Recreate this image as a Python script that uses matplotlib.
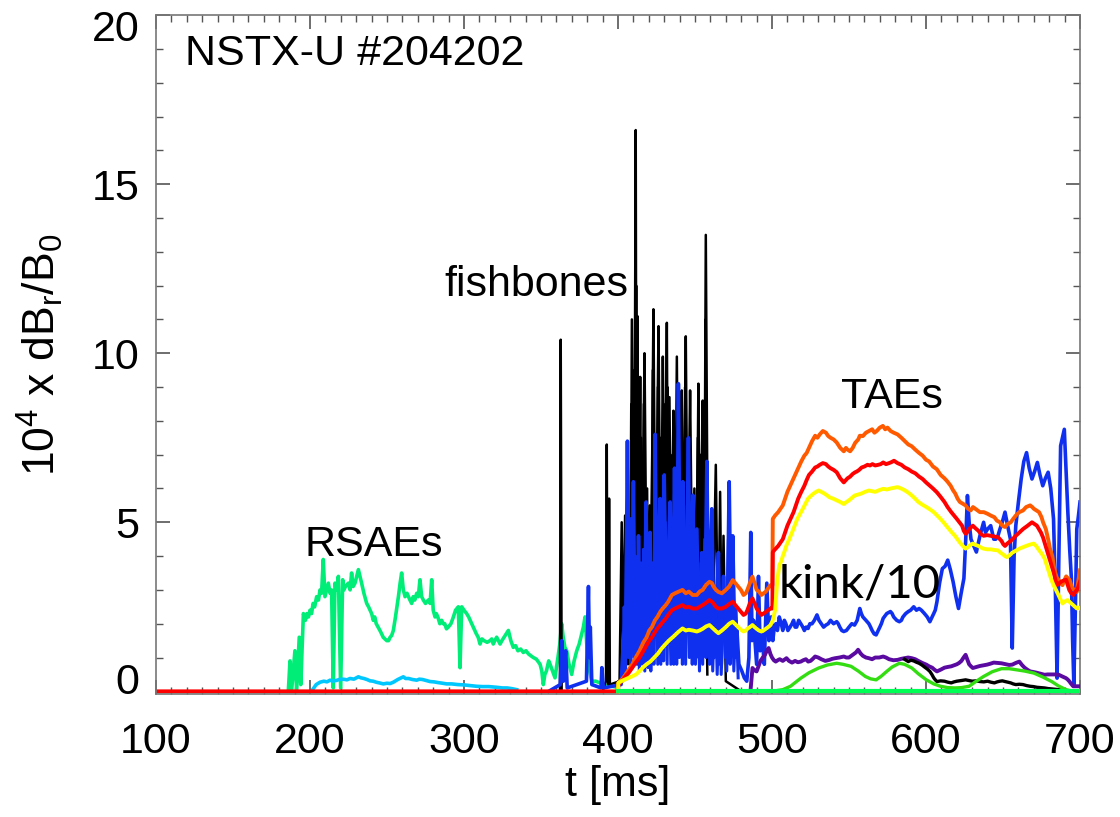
import numpy as np
import matplotlib
matplotlib.use('Agg')
import matplotlib.pyplot as plt
import matplotlib.transforms as mtransforms
from matplotlib.ticker import MultipleLocator

plt.rcParams['font.family'] = ['Liberation Sans', 'DejaVu Sans']
plt.rcParams['mathtext.fontset'] = 'custom'
plt.rcParams['mathtext.rm'] = 'Liberation Sans'
plt.rcParams['mathtext.it'] = 'Liberation Sans'

# RSAE amplitude (green), (t [ms], value)
rsae = [(185.9, 0.0), (187, 0.9), (188, 0.0), (190.2, 1.2), (191.3, 0.0), (193, 1.6),
        (194, 0.2), (195.7, 2.3), (197, 2.1), (198, 2.3), (199, 2.2), (200, 2.4), (201, 2.3),
        (202, 2.6), (203, 2.5), (204.3, 2.8), (205.5, 2.7), (206.5, 3.0), (207.5, 2.9),
        (208.6, 3.9), (209.7, 2.8), (210.8, 3.0), (211.9, 3.2), (213, 2.9), (214, 3.0),
        (215.1, 0.1), (216.2, 3.2), (217.3, 3.0), (218.4, 3.4), (219.9, 0.1), (221.2, 3.3),
        (222, 3.0), (223, 3.1), (224.9, 3.2), (226, 3.0), (227, 3.5), (228, 3.1), (229.2, 3.2),
        (230.3, 3.4), (231.4, 3.6), (233.5, 3.2), (235, 2.9), (236.8, 2.6), (238, 2.5),
        (239, 2.4), (240, 2.3), (241.1, 2.1), (242, 2.2), (243, 2.0), (244.2, 1.9),
        (245.4, 1.8), (246.5, 1.7), (247.5, 1.6), (248.6, 1.55), (249.8, 1.5), (251, 1.5),
        (252, 1.6), (253, 1.65), (254.1, 1.8), (255.5, 2.2), (257.4, 2.8), (258.5, 3.2),
        (259.5, 3.5), (260.6, 3.0), (261.7, 2.8), (263, 2.9), (264.9, 2.7), (266, 2.6),
        (267, 2.8), (268, 2.7), (269.3, 2.9), (270.3, 2.8), (271.4, 3.3), (272.5, 2.8),
        (273.6, 2.7), (275, 2.6), (276.8, 2.7), (278, 2.6), (279, 3.3), (280, 2.4),
        (281.2, 2.2), (282, 2.3), (283, 2.2), (284.3, 2.0), (285.5, 2.1), (286.5, 2.0),
        (287.5, 2.0), (288.6, 1.85), (289.8, 1.9), (291.5, 2.0), (293.1, 2.2), (294.5, 2.4),
        (296.3, 2.5), (297.4, 0.7), (298.5, 2.5), (300, 2.4), (301.7, 2.3), (303, 2.2),
        (304, 2.1), (305, 2.0), (306, 1.9), (307, 1.8), (308, 1.7), (309.2, 1.6), (310.4, 1.4),
        (311.6, 1.55), (313, 1.5), (315, 1.45), (316.9, 1.5), (318, 1.55), (319, 1.4),
        (320, 1.5), (321.2, 1.6), (322.3, 1.5), (323.4, 1.4), (324.6, 1.5), (326, 1.6),
        (327.4, 1.7), (328.8, 1.8), (330.4, 1.5), (332, 1.3), (333.5, 1.35), (335, 1.2),
        (336.8, 1.25), (338.5, 1.15), (340.2, 1.2), (342, 1.1), (343.5, 1.05), (345, 1.0),
        (347, 0.95), (349.4, 0.8), (350.5, 0.6), (351.5, 0.2), (352.5, 0.5), (353.5, 0.6),
        (355, 0.9), (355.9, 0.8), (357.5, 0.6), (359.1, 0.4), (360, 0.7), (361, 1.0),
        (362.2, 1.4), (363.4, 2.0), (364.4, 1.6), (365.5, 1.3), (366.7, 1.2), (368.2, 0.8),
        (369.9, 0.5), (371.5, 0.9), (373.2, 1.2), (374.8, 1.4), (376.4, 1.7), (377.5, 1.9),
        (378.6, 2.2), (379.7, 1.4), (380.8, 0.8), (382, 0.5), (382.9, 0.3), (385.5, 0.3),
        (388.3, 0.25), (390.5, 0.2), (392.7, 0.17), (396, 0.15), (399.2, 0.12), (400, 0.0)]

# light blue trace under the RSAEs
rsae_low = [(202, 0.07), (204, 0.2), (206.5, 0.27), (209, 0.3), (211, 0.28), (213, 0.33),
            (215, 0.3), (217, 0.32), (219, 0.35), (221.6, 0.36), (224, 0.34), (226, 0.38),
            (228.5, 0.36), (231.4, 0.43), (233, 0.4), (235, 0.38), (237, 0.35), (239, 0.31),
            (241, 0.3), (243, 0.27), (245, 0.25), (247.6, 0.22), (250, 0.24), (252, 0.23),
            (254.1, 0.27), (257, 0.35), (260.6, 0.43), (262, 0.38), (264, 0.38), (266.5, 0.35),
            (269.3, 0.33), (271, 0.36), (273, 0.35), (275.5, 0.32), (277.9, 0.29), (280.5, 0.28),
            (283, 0.26), (286, 0.24), (288.7, 0.22), (292, 0.22), (296, 0.2), (300, 0.19),
            (303.9, 0.17), (308, 0.15), (312, 0.14), (316, 0.14), (321.2, 0.12), (325, 0.1),
            (328, 0.1), (331, 0.08), (334.2, 0.05)]

# fishbone bursts (black)
fishbones = [(355, 0.0), (362.3, 0.0), (362.8, 10.4), (363.4, 0.0), (390, 0.0), (392.2, 0.3),
             (392.7, 7.3), (393.2, 0.5), (393.8, 0.2), (394.2, 5.7), (394.7, 0.2), (401, 0.3),
             (402.4, 5.0), (403.3, 0.8), (404.6, 5.2), (405.5, 1.2), (406.5, 0.8), (407.2, 4.0),
             (408.2, 2.5), (409, 11.0), (410, 3.0), (410.8, 7.5), (411.5, 16.6), (412, 4.0),
             (412.6, 11.1), (413.4, 3.5), (414.4, 9.3), (415.1, 4.0), (415.8, 2.0), (416.4, 6.5),
             (417.2, 10.0), (418.5, 3.0), (419.2, 5.0), (420, 1.5), (421.5, 4.5), (422.2, 7.0),
             (423, 11.3), (424, 5.0), (424.8, 3.0), (425.5, 7.5), (426.3, 10.8), (427.7, 2.5),
             (428.4, 6.0), (429.1, 9.9), (430.4, 4.0), (431, 7.0), (431.7, 10.9), (432.5, 3.5),
             (433.4, 8.7), (434.7, 2.0), (435.3, 5.5), (436, 8.3), (437.1, 3.5), (438.2, 9.9),
             (439, 5.0), (439.8, 2.5), (440.6, 6.5), (441.4, 8.9), (442.7, 3.0), (443.3, 7.0),
             (444, 10.5), (445.4, 2.5), (446, 6.0), (446.8, 8.9), (448.2, 3.0), (449.6, 6.0),
             (450.9, 1.5), (451.5, 5.5), (452.2, 9.1), (453.6, 2.0), (454.3, 6.0), (455, 8.6),
             (456, 3.0), (457, 13.5), (458.5, 2.0), (460, 1.0), (462, 3.0), (463.5, 6.7),
             (465, 0.8), (466.3, 5.9), (467.4, 0.8), (468.5, 4.6), (470, 0.3), (480, 0.0)]
# the denser under-layer of the fishbone bursts
fishbones_under = [(405, 0.5), (406, 3.5), (407.6, 1.0), (408.6, 8.5), (409.5, 2.0),
                   (410.4, 9.5), (411.1, 3.0), (411.8, 12.0), (412.3, 3.0), (413, 8.0),
                   (413.9, 2.0), (414.9, 7.5), (416, 1.5), (416.8, 8.5), (417.8, 2.0),
                   (418.9, 6.0), (419.6, 1.0), (420.7, 5.5), (421.9, 2.0), (422.6, 9.5),
                   (423.6, 2.5), (424.4, 7.0), (425.2, 2.0), (425.9, 9.0), (427, 2.0),
                   (427.4, 7.5), (428.7, 2.5), (429.6, 8.0), (430.1, 2.5), (430.7, 8.5),
                   (431.3, 3.0), (432.1, 9.0), (432.9, 2.5), (433.9, 7.0), (434.4, 2.0),
                   (435.6, 7.0), (436.5, 2.5), (437.6, 7.5), (438.6, 3.0), (439.4, 8.0),
                   (440.2, 2.0), (441, 7.5), (442, 2.5), (442.4, 6.0), (443, 2.0), (443.6, 9.0),
                   (444.6, 2.5), (445.1, 7.5), (445.8, 2.0), (446.4, 7.5), (447.5, 2.5),
                   (449, 5.0), (450.4, 1.5), (451.8, 7.5), (452.8, 2.0), (453.9, 7.0),
                   (454.6, 2.0), (455.5, 7.0), (456.5, 3.0), (456.8, 11.0), (457.6, 2.0),
                   (458, 0.5)]

# blue trace
blue = [(355, 0.0), (362.5, 0.2), (363.5, 1.5), (364.5, 0.3), (366, 1.2), (367, 0.1),
        (379.5, 0.3), (380.8, 3.1), (381.5, 1.0), (382, 1.9), (383, 0.2), (389, 0.1),
        (389.5, 0.7), (390.5, 0.1), (402, 0.2), (403.5, 1.5), (404.5, 0.6), (405.3, 3.0),
        (406.1, 7.4), (407, 2.0), (407.9, 5.1), (408.8, 1.5), (409.4, 3.8), (410, 6.2),
        (411, 1.5), (412, 3.5), (412.6, 1.2), (413.3, 4.6), (414.5, 1.0), (415.2, 2.6),
        (416, 3.0), (417, 1.2), (417.6, 3.3), (418.2, 5.6), (419.3, 1.5), (420, 3.1),
        (420.8, 4.7), (422, 1.0), (423, 3.0), (423.6, 1.6), (424.1, 7.6), (425.3, 2.0),
        (426.2, 4.0), (427.3, 5.7), (428.5, 1.5), (429.2, 3.6), (430, 6.4), (431.5, 1.8),
        (432.6, 3.9), (433.8, 5.6), (435, 1.5), (435.8, 3.4), (436.7, 6.6), (437.8, 2.0),
        (438.5, 4.5), (439.2, 9.1), (440.5, 2.5), (441.3, 4.2), (442.1, 6.2), (443.5, 1.5),
        (444.6, 4.0), (445.7, 7.5), (447, 2.0), (447.8, 3.5), (448.6, 5.8), (450, 1.2),
        (450.6, 3.0), (451.2, 4.8), (452.6, 1.0), (453.5, 2.8), (454.4, 4.1), (455.8, 1.5),
        (456.8, 3.8), (457.7, 6.8), (459, 1.8), (460, 3.5), (460.9, 5.4), (462.5, 1.0),
        (463.8, 2.6), (465.2, 4.1), (466.5, 0.8), (467.5, 2.2), (468.5, 3.4), (470, 1.0),
        (471.2, 3.0), (472.2, 6.2), (473.3, 2.0), (474.5, 4.6), (476, 1.0), (477.1, 1.9),
        (478.5, 0.8), (480.4, 0.6), (482, 0.4), (483.6, 0.3), (485, 1.0), (486.2, 4.7),
        (487, 1.5), (488, 2.1), (490, 0.8), (491.2, 3.4), (492.3, 1.2), (493.4, 1.7),
        (495, 0.8), (496.6, 3.2), (498, 1.5), (499.5, 2.2), (500.5, 1.5), (501.5, 1.9),
        (502.5, 2.0), (503.5, 1.8), (504.7, 2.2), (506, 2.0), (507, 1.8), (508, 2.1), (509, 2.0),
        (510.3, 1.8), (511.7, 1.9), (513, 2.0), (514, 2.1), (515, 1.9), (516, 1.9), (517.3, 2.1),
        (518.7, 2.0), (520, 1.9), (521, 1.8), (522.2, 1.9), (523.4, 1.86), (524.6, 2.0),
        (526, 2.0), (527.5, 2.1), (529.2, 2.26), (530.5, 2.1), (532, 2.0), (533.5, 1.9),
        (535, 1.96), (536.5, 2.0), (538, 2.1), (540, 2.0), (542, 2.06), (543, 2.0), (544, 1.9),
        (545.3, 1.8), (546.6, 1.77), (548.3, 1.8), (550, 1.9), (551.8, 2.0), (553.6, 1.96),
        (555.3, 2.1), (557, 2.45), (558, 2.3), (559, 2.2), (561, 2.1), (562.9, 2.0), (564, 1.9),
        (565, 1.8), (566.3, 1.7), (567.6, 1.67), (569, 1.8), (570, 1.9), (571, 2.0),
        (572.2, 2.16), (574.5, 2.3), (576.9, 2.36), (578, 2.3), (579, 2.2), (581, 2.1),
        (582.7, 2.06), (584, 2.1), (585, 2.2), (586.8, 2.3), (588.5, 2.36), (590, 2.4), (592, 2.5),
        (593.8, 2.4), (595.5, 2.45), (597, 2.4), (599, 2.3), (600.8, 2.2), (602.5, 2.06),
        (604, 2.2), (605, 2.3), (606, 2.4), (607.1, 2.65), (608.8, 3.2), (610.6, 3.63),
        (612.4, 3.7), (614.1, 3.88), (615.8, 3.6), (617.6, 3.24), (619.4, 2.8), (621.1, 2.45),
        (622.8, 2.9), (624.6, 3.34), (625.8, 4.5), (626.9, 5.79), (628, 5.0), (629.2, 4.5),
        (631, 4.3), (632.7, 4.12), (634, 4.4), (635, 4.6), (636.2, 4.8), (637.4, 5.0),
        (638.6, 4.7), (640, 4.8), (642, 4.9), (643, 4.7), (644, 4.5), (645.3, 4.5),
        (646.7, 4.6), (648, 4.8), (649.5, 5.0), (651.3, 5.3), (653, 4.9), (654.8, 4.5),
        (656, 1.28), (657.2, 4.0), (658.3, 4.9), (660, 5.6), (661.8, 6.28), (663.5, 6.8),
        (665.3, 7.06), (667, 6.6), (668.8, 6.28), (670.5, 6.5), (672.3, 6.77), (674, 6.4),
        (675.8, 6.08), (677.5, 6.3), (679.3, 6.48), (681, 6.0), (682.8, 5.1), (684, 3.0),
        (685.1, 0.39), (686.2, 3.8), (687.4, 7.26), (688.6, 7.5), (689.8, 7.75), (691, 6.5),
        (692.1, 5.3), (693.3, 4.2), (694.4, 3.34), (695.2, 1.5), (696, 0.2), (697, 2.5),
        (697.9, 4.8), (699, 5.2), (700, 5.6)]
# denser blue bursts between the main blue spikes
blue_under = [(403, 0.5), (404, 2.5), (404.8, 0.8), (405.6, 4.5), (406.6, 1.0), (407.4, 3.5),
              (408.3, 0.8), (409.1, 4.8), (410.5, 1.0), (411.4, 4.0), (412.3, 0.8), (413, 3.2),
              (413.9, 0.6), (414.8, 3.8), (415.6, 0.8), (416.5, 4.2), (417.4, 0.6),
              (418.8, 3.8), (419.6, 0.7), (420.4, 3.6), (421.3, 0.6), (422.4, 3.8), (423.3, 0.8),
              (424.6, 5.0), (425.8, 0.8), (426.7, 4.6), (427.8, 0.8), (428.8, 4.2), (429.6, 0.9),
              (430.7, 5.0), (431.9, 0.8), (432.9, 4.4), (434.3, 0.8), (435.3, 4.0), (436.2, 0.8),
              (437.3, 5.0), (438.1, 0.8), (438.9, 6.0), (439.9, 1.0), (440.9, 5.2), (441.8, 0.8),
              (442.8, 4.6), (443.9, 0.8), (445, 5.5), (446.3, 1.0), (447.3, 4.8), (448.2, 0.8),
              (449.2, 4.2), (450.3, 0.8), (451.8, 3.5), (452.9, 0.6), (453.9, 3.8), (455, 0.8),
              (456.3, 4.5), (457.2, 1.0), (458.3, 4.8), (459.5, 0.8), (460.4, 4.0), (461.5, 0.6),
              (463, 3.0), (464.4, 0.5), (466, 3.0), (467, 0.5), (469, 2.8), (470.6, 0.6),
              (471.7, 4.5), (472.8, 0.8), (473.9, 3.5), (475.2, 0.6), (476.6, 2.5), (478, 0.4)]

# TAE amplitudes (orange, red, yellow)
tae_orange = [(400, 0.0), (400.2, 0.25), (402.5, 0.35), (405, 0.5), (407, 0.65), (409.3, 0.8),
              (411.5, 1.0), (414, 1.2), (416.5, 1.45), (418.6, 1.6), (420.3, 1.8), (422, 1.9),
              (424, 2.1), (425.6, 2.2), (427.4, 2.35), (429, 2.45), (431, 2.55), (432.6, 2.65),
              (435, 2.85), (437, 2.9), (439.5, 2.95), (441.9, 3.0), (444, 2.9), (446, 2.95),
              (448.5, 2.85), (451.2, 2.85), (453, 2.95), (455, 3.0), (457.2, 3.15), (459.4, 3.24),
              (461, 3.2), (462, 3.1), (463.6, 3.0), (465.2, 2.94), (467.5, 2.9), (470, 3.0),
              (472.2, 3.1), (474.5, 3.29), (476.2, 3.2), (478, 3.1), (479.8, 3.0), (481.5, 2.85),
              (483, 2.9), (484, 3.0), (485.6, 3.2), (487.3, 3.39), (488.7, 3.2), (490, 3.0),
              (491.5, 2.95), (493.1, 2.85), (494.5, 2.9), (496, 2.95), (497.5, 3.05), (499, 3.14),
              (500.2, 3.14), (500.5, 5.1), (502, 5.2), (504, 5.3), (505.5, 5.4), (507, 5.5),
              (508.5, 5.7), (510, 5.9), (512, 6.1), (514, 6.3), (515.5, 6.45), (517, 6.6),
              (519, 6.8), (521, 6.97), (522.5, 7.05), (524, 7.2), (526, 7.4), (528, 7.56),
              (529.5, 7.5), (531, 7.6), (533, 7.7), (535, 7.65), (536.5, 7.55), (538, 7.5),
              (540, 7.45), (542, 7.36), (544.3, 7.2), (546.6, 7.1), (548, 7.2), (549, 7.15),
              (550.7, 7.1), (552.4, 7.2), (554, 7.35), (555, 7.4), (556, 7.45), (557, 7.56),
              (559, 7.55), (561, 7.65), (563, 7.7), (565, 7.75), (566.5, 7.65), (568, 7.7),
              (570, 7.8), (572, 7.85), (573.5, 7.75), (575, 7.8), (577, 7.7), (579, 7.65),
              (581.5, 7.6), (584, 7.5), (586.2, 7.4), (588.5, 7.3), (590.7, 7.25), (593, 7.15),
              (595.5, 7.05), (597.8, 6.97), (600, 6.85), (602, 6.8), (604.5, 6.65), (607, 6.57),
              (609.5, 6.4), (612, 6.3), (614, 6.2), (616, 6.08), (617.5, 5.95), (619, 5.85),
              (620.5, 5.7), (622, 5.6), (623.8, 5.55), (625.7, 5.5), (627.3, 5.4), (629, 5.35),
              (630.5, 5.45), (632, 5.4), (633.5, 5.35), (635, 5.3), (637.5, 5.3), (640, 5.25),
              (642, 5.2), (644.4, 5.15), (646, 5.05), (648, 5.0), (649.5, 4.9), (651.3, 4.86),
              (653, 4.95), (655, 5.0), (656.6, 5.1), (658.3, 5.2), (660.5, 5.3), (663, 5.35),
              (665, 5.45), (667.6, 5.5), (669, 5.45), (670, 5.4), (671.7, 5.35), (673.4, 5.3),
              (675, 5.15), (676, 5.0), (677.8, 4.8), (679.3, 4.5), (680.6, 4.2), (682, 4.0),
              (683, 3.7), (684, 3.5), (685, 3.35), (686, 3.3), (687.3, 3.2), (688.6, 3.14),
              (690, 3.3), (691, 3.4), (692, 3.35), (693.2, 3.3), (694.5, 3.1), (696, 3.0),
              (697.9, 2.94), (699, 3.3), (700, 3.58)]
tae_red = [(100, 0.0), (400, 0.0), (400.2, 0.2), (402.5, 0.3), (405, 0.45), (407, 0.55),
           (409.3, 0.7), (411.5, 0.85), (414, 1.0), (416.5, 1.2), (418.6, 1.37), (420.3, 1.5),
           (422, 1.6), (424, 1.75), (425.6, 1.86), (427.4, 1.95), (429, 2.05), (431, 2.15),
           (432.6, 2.26), (435, 2.4), (437, 2.45), (439.5, 2.5), (441.9, 2.55), (444, 2.48),
           (446, 2.5), (448.5, 2.45), (451.2, 2.45), (453, 2.5), (455, 2.55), (457.2, 2.62),
           (459.4, 2.7), (461, 2.65), (462, 2.6), (463.6, 2.5), (465.2, 2.45), (467.5, 2.45),
           (470, 2.5), (472.2, 2.58), (474.5, 2.65), (476.2, 2.55), (478, 2.45), (479.8, 2.35),
           (481.5, 2.26), (483, 2.3), (484, 2.4), (485.6, 2.6), (487.3, 2.75), (488.7, 2.6),
           (490, 2.45), (491.5, 2.35), (493.1, 2.26), (494.5, 2.3), (496, 2.35), (497.5, 2.4),
           (499, 2.45), (500.2, 2.45), (500.5, 4.12), (502, 4.2), (504, 4.3), (505.5, 4.4),
           (507, 4.5), (508.5, 4.7), (510, 4.9), (512, 5.1), (514, 5.3), (515.5, 5.5),
           (517, 5.7), (519, 5.9), (521, 6.08), (522.5, 6.25), (524, 6.4), (526, 6.5),
           (528, 6.62), (529.5, 6.65), (531, 6.7), (533, 6.75), (535, 6.72), (536.5, 6.65),
           (538, 6.6), (540, 6.55), (542, 6.48), (544.3, 6.3), (546.6, 6.18), (548, 6.25),
           (549, 6.3), (550.7, 6.35), (552.4, 6.43), (554, 6.48), (555, 6.5), (556.6, 6.55),
           (558.2, 6.62), (560, 6.65), (562, 6.7), (563.6, 6.68), (565.2, 6.72), (567, 6.68),
           (569, 6.7), (570.6, 6.72), (572.2, 6.77), (574, 6.72), (576, 6.75), (577.6, 6.78),
           (579.2, 6.82), (581.5, 6.75), (584, 6.7), (586.2, 6.62), (588.5, 6.57), (590.7, 6.5),
           (593, 6.45), (595.5, 6.35), (597.8, 6.28), (600, 6.18), (602, 6.1), (604.5, 6.0),
           (607, 5.89), (609.5, 5.75), (612, 5.6), (614, 5.45), (616.4, 5.3), (618.2, 5.2),
           (620, 5.1), (621.7, 5.0), (623.4, 4.9), (624.5, 4.75), (625.7, 4.66), (627, 4.72),
           (628, 4.8), (629.2, 4.85), (630.4, 4.9), (632.2, 4.82), (634, 4.75), (635.7, 4.65),
           (637.4, 4.6), (639.7, 4.62), (642, 4.6), (644.4, 4.58), (646.7, 4.56), (648, 4.5),
           (649, 4.45), (650.2, 4.35), (651.3, 4.3), (653, 4.38), (655, 4.45), (656.6, 4.52),
           (658.3, 4.6), (660.6, 4.7), (663, 4.8), (666, 4.9), (668.8, 5.0), (670.4, 4.95),
           (672, 4.9), (673.3, 4.8), (674.6, 4.7), (676, 4.55), (677, 4.4), (678.7, 4.15),
           (680.4, 3.9), (681.7, 3.7), (683, 3.5), (684, 3.3), (685, 3.14), (686.5, 3.2),
           (688, 3.25), (689.5, 3.28), (691, 3.3), (692, 3.15), (693, 3.0), (694.3, 2.9),
           (695.6, 2.85), (697, 2.95), (698, 3.0), (699, 3.1), (700, 3.24)]
tae_yellow = [(400, 0.0), (400.2, 0.25), (403, 0.32), (406, 0.38), (409, 0.44), (411.7, 0.5),
              (414, 0.6), (416, 0.7), (418.5, 0.8), (421, 0.88), (423.5, 1.0), (426, 1.12),
              (428, 1.25), (430.3, 1.37), (433, 1.5), (436, 1.62), (439, 1.75), (441.9, 1.86),
              (444, 1.8), (446, 1.82), (448.5, 1.8), (451.2, 1.77), (453, 1.8), (455, 1.85),
              (457.2, 1.92), (459.4, 1.96), (460.8, 1.9), (462, 1.85), (463.6, 1.78),
              (465.2, 1.72), (467.5, 1.8), (470, 1.9), (472.2, 2.0), (474.5, 2.06), (476.2, 1.98),
              (478, 1.9), (479.8, 1.82), (481.5, 1.77), (483, 1.8), (484, 1.85), (485.6, 1.9),
              (487.3, 1.96), (488.7, 1.9), (490, 1.85), (491.5, 1.8), (493.1, 1.77),
              (494.5, 1.8), (496, 1.85), (497.5, 1.9), (499, 1.96), (500.5, 2.1), (502, 2.4),
              (503.3, 3.2), (504.7, 3.73), (506, 3.85), (507, 4.0), (508.2, 4.15), (509.4, 4.32),
              (511.2, 4.5), (513, 4.7), (514.7, 4.9), (516.4, 5.1), (518.2, 5.25), (520, 5.4),
              (521.7, 5.55), (523.4, 5.7), (525.2, 5.78), (527, 5.85), (528.6, 5.9),
              (530.3, 5.94), (532, 5.9), (534, 5.85), (535.6, 5.8), (537.3, 5.74), (539.6, 5.7),
              (542, 5.65), (544.3, 5.6), (546.6, 5.54), (548.3, 5.6), (550, 5.65), (551.8, 5.72),
              (553.6, 5.79), (555.8, 5.82), (558, 5.85), (560.4, 5.9), (562.9, 5.94), (565, 5.92),
              (567, 5.9), (569.6, 5.95), (572.2, 5.99), (574.6, 5.97), (577, 6.0), (579.2, 6.02),
              (581.5, 6.04), (583.8, 6.0), (586, 5.95), (588.4, 5.88), (590.8, 5.79),
              (592.9, 5.7), (595, 5.6), (597.6, 5.52), (600.2, 5.45), (602.6, 5.38), (605, 5.3),
              (607.2, 5.2), (609.4, 5.1), (611.7, 4.98), (614, 4.85), (616.4, 4.72),
              (618.8, 4.6), (620.4, 4.5), (622, 4.4), (623.9, 4.3), (625.7, 4.22), (627, 4.26),
              (628, 4.3), (629.2, 4.34), (630.4, 4.37), (632.2, 4.33), (634, 4.3), (635.7, 4.25),
              (637.4, 4.22), (639.7, 4.2), (642, 4.2), (644.4, 4.18), (646.7, 4.17), (648.4, 4.1),
              (650, 4.05), (651.3, 4.0), (652.5, 3.97), (654.2, 4.02), (656, 4.1), (658.3, 4.16),
              (660.6, 4.22), (662.8, 4.26), (665, 4.3), (667.5, 4.34), (669.9, 4.37),
              (671.5, 4.3), (673, 4.2), (675, 4.08), (677, 3.93), (678.5, 3.72), (680, 3.5),
              (681.4, 3.3), (682.8, 3.14), (684.4, 3.0), (686, 2.85), (687.3, 2.72),
              (688.6, 2.6), (690.3, 2.66), (692, 2.7), (693.8, 2.62), (695.6, 2.55),
              (696.8, 2.5), (698, 2.45), (699, 2.48), (700, 2.45)]

# low-frequency modes after 490 ms
purple = [(486, 0.0), (487.3, 0.69), (488.6, 0.62), (490, 0.59), (491.3, 0.75), (492.5, 0.9),
          (494, 1.0), (495.4, 1.08), (496.6, 1.2), (497.8, 1.28), (499, 1.1), (500, 1.0),
          (501.2, 0.92), (502.4, 0.88), (503.7, 0.92), (505, 0.95), (507, 0.9), (509.4, 0.98),
          (511, 0.9), (513, 0.85), (515, 0.9), (516.8, 0.86), (518.7, 0.88), (520.3, 0.92),
          (522, 0.95), (523.5, 0.88), (525, 0.9), (526.5, 0.96), (528, 1.03), (530, 1.0),
          (532, 0.95), (534.6, 0.9), (537.3, 0.93), (539, 0.96), (541, 0.98), (543.8, 1.0),
          (546.6, 1.03), (548.3, 1.0), (550, 1.0), (551.5, 1.05), (553, 1.1), (554.5, 1.15),
          (555.9, 1.23), (557.5, 1.12), (559, 1.05), (561, 1.0), (562.9, 0.98), (565, 0.95),
          (567, 1.0), (569.6, 1.0), (572.2, 1.03), (574, 1.0), (576, 0.95), (578.8, 0.92),
          (581.5, 0.93), (583.8, 0.96), (586, 0.98), (588.4, 1.0), (590.8, 0.98), (593, 0.95),
          (595, 0.9), (597.6, 0.84), (600.2, 0.79), (602, 0.74), (604, 0.7), (605.5, 0.64),
          (607.1, 0.59), (609.5, 0.64), (612, 0.7), (614, 0.72), (616.4, 0.74), (618.2, 0.77),
          (620, 0.8), (621.5, 0.84), (623, 0.9), (624.4, 1.0), (625.7, 1.08), (627, 0.92),
          (628, 0.8), (629.2, 0.74), (630.4, 0.69), (632.7, 0.72), (635, 0.75), (637.4, 0.77),
          (639.7, 0.79), (642, 0.82), (644, 0.85), (646.5, 0.84), (649, 0.83), (652, 0.8),
          (654, 0.78), (656, 0.79), (658.3, 0.84), (660.6, 0.88), (662.3, 0.78), (664, 0.7),
          (665.8, 0.64), (667.6, 0.59), (670, 0.57), (672, 0.55), (674.5, 0.52), (677, 0.49),
          (679, 0.5), (681, 0.5), (683.6, 0.5), (686.2, 0.49), (688.5, 0.44), (690.9, 0.39),
          (692, 0.35), (693, 0.3), (694.3, 0.22), (695.6, 0.15), (698, 0.15), (700, 0.15)]
kink_low = [(586, 0.95), (588.5, 0.88), (590.2, 0.92), (592, 0.9), (593.8, 0.86),
            (595.5, 0.83), (597.3, 0.78), (599, 0.72), (600.8, 0.66), (602.5, 0.59),
            (603.8, 0.5), (605, 0.4), (606, 0.34), (607.1, 0.29), (609.5, 0.31), (612, 0.3),
            (614.2, 0.27), (616.4, 0.25), (618.2, 0.28), (620, 0.3), (623, 0.32), (625.7, 0.34),
            (627.8, 0.32), (630, 0.3), (632.5, 0.31), (635, 0.29), (637.5, 0.28), (640, 0.3),
            (642.2, 0.27), (644.4, 0.25), (646.2, 0.28), (648, 0.3), (649.6, 0.31),
            (651.3, 0.29), (653.2, 0.27), (655, 0.25), (656.6, 0.22), (658.3, 0.2),
            (660.6, 0.21), (663, 0.2), (665.3, 0.17), (667.6, 0.15), (669.8, 0.14), (672, 0.12),
            (674.5, 0.11), (677, 0.1), (679.5, 0.08), (682, 0.07), (684.1, 0.06), (686.2, 0.05),
            (689.6, 0.03), (693, 0.0)]
lime = [(500, 0.0), (507, 0.05), (512, 0.15), (518.7, 0.39), (524, 0.55), (530.3, 0.69),
        (536, 0.78), (542, 0.83), (546, 0.8), (551.3, 0.74), (556, 0.6), (560.6, 0.44),
        (564, 0.37), (567.6, 0.34), (571, 0.45), (574.5, 0.59), (578, 0.72), (582.7, 0.83),
        (586, 0.8), (590.8, 0.69), (595, 0.52), (600.2, 0.34), (605, 0.22), (609.4, 0.15),
        (614, 0.11), (618.8, 0.1), (623, 0.11), (628, 0.15), (632, 0.28), (637.4, 0.44),
        (643, 0.58), (649, 0.67), (654, 0.67), (658.3, 0.64), (664, 0.6), (670, 0.54),
        (676, 0.42), (681.6, 0.29), (686, 0.16), (690.9, 0.05), (695.6, 0.0)]
baseline_green = [(400, 0.0), (700, 0.0)]

fig = plt.figure(figsize=(11.2, 8.17), dpi=100)
ax = fig.add_axes([0.1393, 0.1505, 0.825, 0.831])

def draw(data, color, lw=2.8, z=2):
    d = np.array(data)
    ax.plot(d[:, 0], d[:, 1], color=color, lw=lw, zorder=z)

draw(rsae, '#00ee78', lw=2.6, z=2)
draw(rsae_low, '#00c8ff', lw=2.6, z=2.1)
draw(fishbones_under, 'black', lw=1.8, z=2.15)
draw(fishbones, 'black', lw=1.8, z=2.2)
draw(blue_under, '#1030f0', lw=2.2, z=2.25)
draw(blue, '#1030f0', lw=2.6, z=2.3)
draw(tae_orange, '#ff5a00', z=2.4)
draw(tae_red, '#ff0000', z=2.5)
draw(tae_yellow, '#ffff00', z=2.6)
draw(purple, '#5a0aa0', z=2.7)
draw(kink_low, 'black', lw=2.4, z=2.8)
draw(lime, '#33dd11', lw=2.4, z=2.9)
draw(baseline_green, '#00ff55', lw=3, z=3)

ax.set_xlim(100, 700)
ax.set_ylim(-0.08, 20)
ax.xaxis.set_major_locator(MultipleLocator(100))
ax.xaxis.set_minor_locator(MultipleLocator(10))
ax.yaxis.set_major_locator(MultipleLocator(5))
ax.yaxis.set_minor_locator(MultipleLocator(1))
ax.tick_params(which='both', direction='in', top=True, right=True, color='#555555')
ax.tick_params(which='major', length=10, width=1.2)
ax.tick_params(which='minor', length=5, width=1.0)
ax.tick_params(axis='x', labelsize=31, pad=20)
ax.tick_params(axis='y', labelsize=31, pad=12)
for s in ax.spines.values():
    s.set_color('#777777')
    s.set_linewidth(1.2)

# the end labels of the y axis sit a little inside, as in the original
ylocs = ax.yaxis.get_majorticklocs()
yticks = ax.yaxis.get_major_ticks(len(ylocs))
for loc, tk in zip(ylocs, yticks):
    if abs(loc) < 1e-9:
        shift = 0.13
    elif abs(loc - 20) < 1e-9:
        shift = -0.1
    else:
        continue
    tk.label1.set_transform(tk.label1.get_transform() +
                            mtransforms.ScaledTranslation(0, shift, fig.dpi_scale_trans))

ax.set_xlabel('t [ms]', fontsize=31, labelpad=2)
ax.set_ylabel(r'$\mathregular{10^4}$ x dB$_\mathregular{r}$/B$_\mathregular{0}$', fontsize=32)
ax.yaxis.set_label_coords(-0.098, 0.5)

ax.text(118.8, 19.45, 'NSTX-U #204202', fontsize=31, va='top', ha='left')
ax.text(346.8, 11.68, 'fishbones', fontsize=31, va='baseline', ha='center')
ax.text(241.6, 4.0, 'RSAEs', fontsize=31, va='baseline', ha='center')
ax.text(578, 8.37, 'TAEs', fontsize=31, va='baseline', ha='center')
ax.text(504.5, 2.77, 'kink/10', fontsize=34, va='baseline', ha='left',
        family=['Lato', 'DejaVu Sans'])

fig.savefig('out.png', dpi=100)
